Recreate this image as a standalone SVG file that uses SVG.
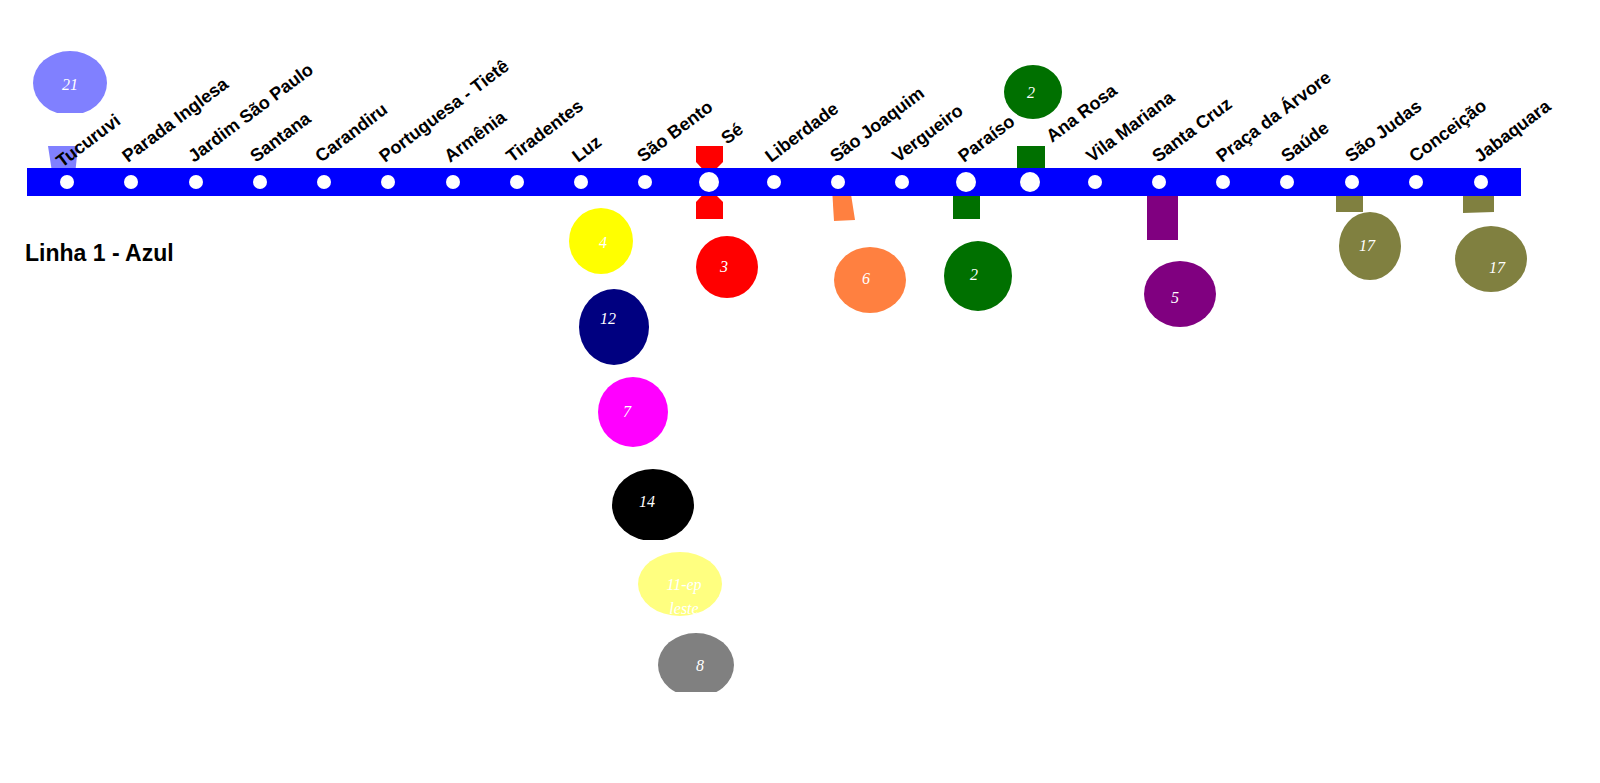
<svg xmlns="http://www.w3.org/2000/svg" width="1600" height="783" viewBox="0 0 1600 783">
<style>
.st{font-family:"Liberation Sans",Arial,sans-serif;font-weight:bold;font-size:18px;fill:#000}
.n{font-family:"Liberation Serif","Times New Roman",serif;font-style:italic;font-size:16px;fill:#fff;text-anchor:middle}
.d{fill:#fff}
</style>
<rect width="1600" height="783" fill="#fff"/>
<g id="connectors">
<polygon points="48,146 78,146 75,175 67,182 52,172" fill="#8080ff"/>
<polygon points="696,146 723,146 723,162 709,176 696,162" fill="#f00"/>
<polygon points="696,219 723,219 723,202 709,188 696,202" fill="#f00"/>
<polygon points="953,219 980,219 980,195 966,182 953,195" fill="#007000"/>
<polygon points="1017,146 1045,146 1045,170 1030,180 1017,170" fill="#007000"/>
<polygon points="832,188 838,182 850,188 855,220 834,221" fill="#ff8040"/>
<polygon points="1147,195 1160,182 1178,195 1178,240 1147,240" fill="#800080"/>
<polygon points="1336,192 1352,186 1363,192 1363,212 1336,212" fill="#808040"/>
<polygon points="1463,194 1480,184 1494,192 1494,212 1463,213" fill="#808040"/>
</g>
<g id="line"><rect x="27" y="168" width="1494" height="28" fill="#0000ff"/></g>
<g id="stations">
<circle class="d" cx="67" cy="182" r="7"/><circle class="d" cx="131" cy="182" r="7"/><circle class="d" cx="196" cy="182" r="7"/><circle class="d" cx="260" cy="182" r="7"/><circle class="d" cx="324" cy="182" r="7"/><circle class="d" cx="388" cy="182" r="7"/><circle class="d" cx="453" cy="182" r="7"/><circle class="d" cx="517" cy="182" r="7"/><circle class="d" cx="581" cy="182" r="7"/><circle class="d" cx="645" cy="182" r="7"/><circle class="d" cx="709" cy="182" r="10"/><circle class="d" cx="774" cy="182" r="7"/><circle class="d" cx="838" cy="182" r="7"/><circle class="d" cx="902" cy="182" r="7"/><circle class="d" cx="966" cy="182" r="10"/><circle class="d" cx="1030" cy="182" r="10"/><circle class="d" cx="1095" cy="182" r="7"/><circle class="d" cx="1159" cy="182" r="7"/><circle class="d" cx="1223" cy="182" r="7"/><circle class="d" cx="1287" cy="182" r="7"/><circle class="d" cx="1352" cy="182" r="7"/><circle class="d" cx="1416" cy="182" r="7"/><circle class="d" cx="1481" cy="182" r="7"/>
</g>
<g id="labels">
<text class="st" transform="translate(62,168) rotate(-37)">Tucuruvi</text>
<text class="st" transform="translate(128,163) rotate(-37)">Parada Inglesa</text>
<text class="st" transform="translate(194,163) rotate(-37)">Jardim São Paulo</text>
<text class="st" transform="translate(256,163) rotate(-37)">Santana</text>
<text class="st" transform="translate(321,163) rotate(-37)">Carandiru</text>
<text class="st" transform="translate(385,163) rotate(-37)">Portuguesa - Tietê</text>
<text class="st" transform="translate(450,163) rotate(-37)">Armênia</text>
<text class="st" transform="translate(512,163) rotate(-37)">Tiradentes</text>
<text class="st" transform="translate(578,163) rotate(-37)">Luz</text>
<text class="st" transform="translate(643,163) rotate(-37)">São Bento</text>
<text class="st" transform="translate(727,145) rotate(-37)">Sé</text>
<text class="st" transform="translate(771,163) rotate(-37)">Liberdade</text>
<text class="st" transform="translate(836,163) rotate(-37)">São Joaquim</text>
<text class="st" transform="translate(898,163) rotate(-37)">Vergueiro</text>
<text class="st" transform="translate(964,163) rotate(-37)">Paraíso</text>
<text class="st" transform="translate(1052,143) rotate(-37)">Ana Rosa</text>
<text class="st" transform="translate(1092,163) rotate(-37)">Vila Mariana</text>
<text class="st" transform="translate(1158,163) rotate(-37)">Santa Cruz</text>
<text class="st" transform="translate(1222,163) rotate(-37)">Praça da Árvore</text>
<text class="st" transform="translate(1287,163) rotate(-37)">Saúde</text>
<text class="st" transform="translate(1351,163) rotate(-37)">São Judas</text>
<text class="st" transform="translate(1415,163) rotate(-37)">Conceição</text>
<text class="st" transform="translate(1480,163) rotate(-37)">Jabaquara</text>
<text x="25" y="261" style="font-family:'Liberation Sans',Arial,sans-serif;font-weight:bold;font-size:23px">Linha 1 - Azul</text>
</g>
<defs><clipPath id="c21"><rect x="0" y="40" width="200" height="73"/></clipPath><clipPath id="c14"><rect x="600" y="460" width="120" height="80"/></clipPath><clipPath id="c8"><rect x="640" y="620" width="120" height="72"/></clipPath></defs>
<g id="l21"><ellipse cx="70" cy="83" rx="37" ry="32" fill="#8080ff" clip-path="url(#c21)"/><text class="n" x="70" y="90">21</text></g>
<g id="l4"><ellipse cx="601" cy="241" rx="32" ry="33" fill="#ffff00"/><text class="n" x="603" y="248">4</text></g>
<g id="l12"><ellipse cx="614" cy="327" rx="35" ry="38" fill="#000080"/><text class="n" x="608" y="324">12</text></g>
<g id="l7"><ellipse cx="633" cy="412" rx="35" ry="35" fill="#ff00ff"/><text class="n" x="627" y="417">7</text></g>
<g id="l14"><ellipse cx="653" cy="505" rx="41" ry="36" fill="#000" clip-path="url(#c14)"/><text class="n" x="647" y="507">14</text></g>
<g id="l11"><ellipse cx="680" cy="584" rx="42" ry="32" fill="#ffff80"/><text class="n" x="684" y="590">11-ep</text><text class="n" x="684" y="614">leste</text></g>
<g id="l8"><ellipse cx="696" cy="665" rx="38" ry="32" fill="#808080" clip-path="url(#c8)"/><text class="n" x="700" y="671">8</text></g>
<g id="l3"><ellipse cx="727" cy="267" rx="31" ry="31" fill="#ff0000"/><text class="n" x="724" y="272">3</text></g>
<g id="l6"><ellipse cx="870" cy="280" rx="36" ry="33" fill="#ff8040"/><text class="n" x="866" y="284">6</text></g>
<g id="l2a"><ellipse cx="1033" cy="92" rx="29" ry="27" fill="#007000"/><text class="n" x="1031" y="98">2</text></g>
<g id="l2b"><ellipse cx="978" cy="276" rx="34" ry="35" fill="#007000"/><text class="n" x="974" y="280">2</text></g>
<g id="l5"><ellipse cx="1180" cy="294" rx="36" ry="33" fill="#800080"/><text class="n" x="1175" y="303">5</text></g>
<g id="l17a"><ellipse cx="1370" cy="246" rx="31" ry="34" fill="#808040"/><text class="n" x="1367" y="251">17</text></g>
<g id="l17b"><ellipse cx="1491" cy="259" rx="36" ry="33" fill="#808040"/><text class="n" x="1497" y="273">17</text></g>
</svg>
